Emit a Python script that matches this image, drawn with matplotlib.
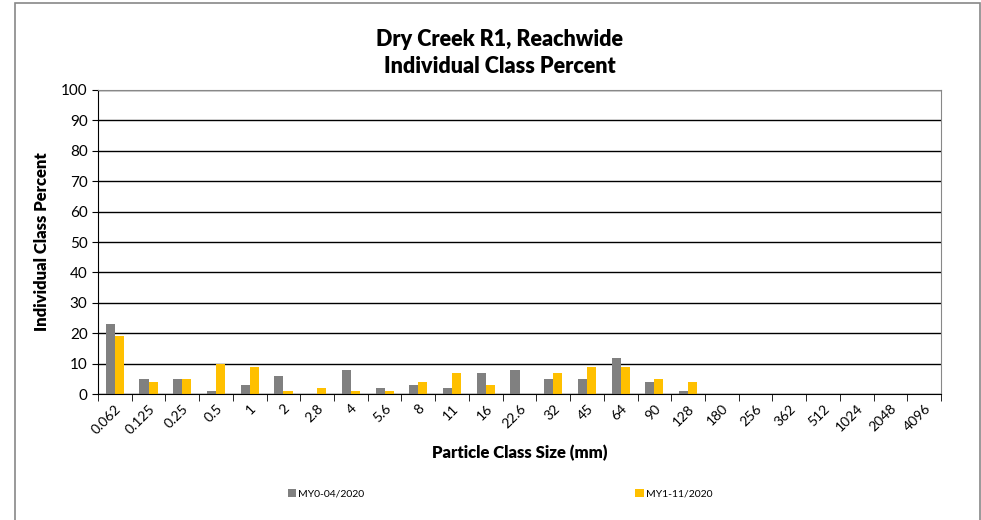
import numpy as np
import matplotlib
matplotlib.use("Agg")
import matplotlib.pyplot as plt
from matplotlib.patches import Rectangle

plt.rcParams['font.family'] = ['Lato', 'DejaVu Sans']

sizes = ["0.062", "0.125", "0.25", "0.5", "1", "2", "2.8", "4", "5.6", "8", "11",
         "16", "22.6", "32", "45", "64", "90", "128", "180", "256", "362", "512",
         "1024", "2048", "4096"]
my0 = [23, 5, 5, 1, 3, 6, 0, 8, 2, 3, 2, 7, 8, 5, 5, 12, 4, 1, 0, 0, 0, 0, 0, 0, 0]
my1 = [19, 4, 5, 10, 9, 1, 2, 1, 1, 4, 7, 3, 0, 7, 9, 9, 5, 4, 0, 0, 0, 0, 0, 0, 0]
series_names = ["MY0-04/2020", "MY1-11/2020"]
colors = ["#808080", "#FFC000"]

W, H = 981, 520
fig = plt.figure(figsize=(W / 100, H / 100), dpi=100)

# outer chart frame
fig.patches.append(Rectangle((15 / W, -0.05), (980 - 15) / W, 1.05 - 3 / H,
                             transform=fig.transFigure, fill=False,
                             edgecolor="#888888", linewidth=1.2))

ax = fig.add_axes([98 / W, (H - 394) / H, (941 - 98) / W, (394 - 90) / H])

x = np.arange(len(sizes))
bw = 0.27
ax.bar(x - bw / 2, my0, bw, color=colors[0], label=series_names[0])
ax.bar(x + bw / 2, my1, bw, color=colors[1], label=series_names[1])

ax.set_xlim(-0.5, len(sizes) - 0.5)
ax.set_ylim(0, 100)
ax.set_yticks(range(0, 101, 10))
ax.yaxis.grid(True, color="black", linewidth=1)
ax.set_axisbelow(True)

ax.set_xticks(x)
ax.set_xticklabels(sizes, rotation=45, ha="right", rotation_mode="anchor", fontsize=10)
ax.tick_params(axis="x", length=0, pad=6)
ax.set_xticks(np.arange(-0.5, len(sizes)), minor=True)
ax.tick_params(axis="x", which="minor", length=5, direction="out")
ax.tick_params(axis="y", labelsize=11, length=4)

for s in ["top", "right"]:
    ax.spines[s].set_color("#888888")
ax.spines["left"].set_color("black")
ax.spines["bottom"].set_color("black")

ax.set_ylabel("Individual Class Percent", fontsize=12, fontweight="heavy", labelpad=8)
ax.set_xlabel("Particle Class Size (mm)", fontsize=12, fontweight="heavy", labelpad=6)
fig.text(500 / W, 1 - 53 / H, "Dry Creek R1, Reachwide\nIndividual Class Percent",
         ha="center", va="center", fontsize=15.5, fontweight="heavy", linespacing=1.35)

fig.legend(loc="center", bbox_to_anchor=(500 / W, 1 - 494 / H), ncol=2,
           frameon=False, fontsize=7.5, handlelength=0.8, handleheight=0.8,
           handletextpad=0.2, columnspacing=26)

fig.savefig("out.png", dpi=100)
